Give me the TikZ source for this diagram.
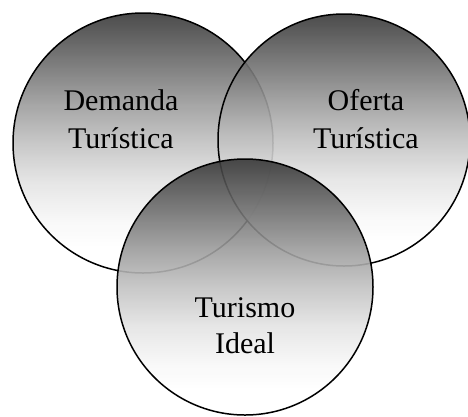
\documentclass[tikz,border=0pt]{standalone}
\usepackage{fontspec}
\setmainfont{Liberation Serif}
\pgfdeclareverticalshading{ringshade}{100bp}{%
  color(0bp)=(white); color(30bp)=(white); color(35bp)=(black!3);
  color(42.5bp)=(black!11); color(50bp)=(black!24); color(57.5bp)=(black!39);
  color(65bp)=(black!56); color(75bp)=(black!78); color(100bp)=(black!78)}
\begin{document}
\begin{tikzpicture}[x=1pt,y=-1pt,
  ring/.style={draw=black,line width=1.5pt,shading=ringshade,fill opacity=0.9},
  lbl/.style={anchor=base,inner sep=0pt,font=\fontsize{30}{36}\selectfont}]
\useasboundingbox (0,0) rectangle (468,416);
\path[ring] (143,143) circle[radius=130];
\path[ring] (344,140) circle[radius=126];
\path[ring] (245,287) circle[radius=128];
\node[lbl] (d1) at (121,110) {Demanda};
\node[lbl] (d2) at (121,148) {Turística};
\node[lbl] (o1) at (366,110) {Oferta};
\node[lbl] (o2) at (366,148) {Turística};
\node[lbl] (t1) at (245,317) {Turismo};
\node[lbl] (t2) at (245,353) {Ideal};
\end{tikzpicture}
\end{document}
